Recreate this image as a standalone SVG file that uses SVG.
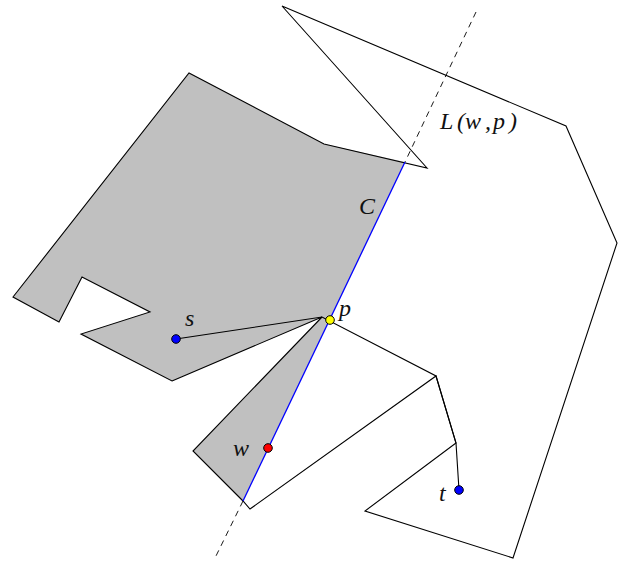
<svg xmlns="http://www.w3.org/2000/svg" width="622" height="563" viewBox="0 0 622 563">
<style>
.edge{fill:none;stroke:#000;stroke-width:1.1;stroke-linejoin:miter}
.dash{stroke:#000;stroke-width:0.9;stroke-dasharray:6,5}
.lbl{font-family:"Liberation Serif","DejaVu Serif",serif;font-style:italic;font-size:24px;fill:#111}
.pt{stroke:#000;stroke-width:1}
</style>
<rect width="622" height="563" fill="#fff"/>
<g id="region-C">
<polygon points="13,297 189,73 324,144 405,162 243,501 193,451 322,317 172,381 81,334 150,312 82,277 59,322" fill="#c0c0c0" stroke="none"/>
</g>
<g id="polygon">
<polygon class="edge" points="172,381 322,317 193,451 243,501 250,509 436,376 456,443 365,511 513,558 617,243 566,126 282,6 427,168 324,144 189,73 13,297 59,322 82,277 150,312 81,334"/>
</g>
<g id="connectors">
<line id="line-L-top" class="dash" x1="476" y1="12" x2="405" y2="162"/>
<line id="line-L-bottom" class="dash" x1="243" y1="501" x2="215" y2="558"/>
<line id="edge-C" x1="405" y1="162" x2="243" y2="501" stroke="#0000ff" stroke-width="1.3"/>
<polyline id="path-st" class="edge" points="176,339 322,317 436,376 456,443 459,490"/>
</g>
<g id="node-s"><circle class="pt" cx="176" cy="339" r="4.3" fill="#0000ff"/><text class="lbl" x="185" y="326">s</text></g>
<g id="node-p"><circle class="pt" cx="330" cy="320" r="4.3" fill="#ffff00"/><text class="lbl" x="339" y="316">p</text></g>
<g id="node-w"><circle class="pt" cx="268" cy="448" r="4.3" fill="#ff0000"/><text class="lbl" x="233" y="456">w</text></g>
<g id="node-t"><circle class="pt" cx="459" cy="490" r="4.3" fill="#0000ff"/><text class="lbl" x="439" y="501">t</text></g>
<g id="label-C"><text class="lbl" x="359" y="214">C</text></g>
<g id="label-L"><text class="lbl" x="440 457 465 485 493 509" y="129">L(w,p)</text></g>
</svg>
